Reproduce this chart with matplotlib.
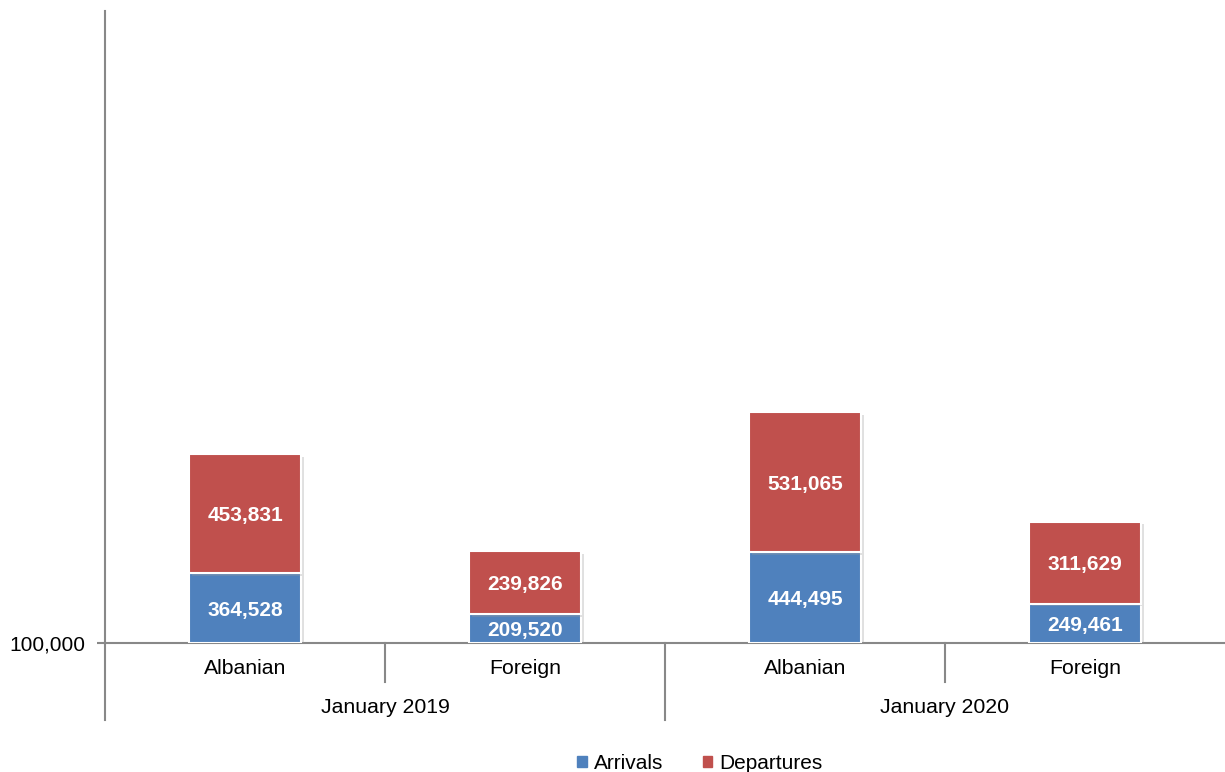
import matplotlib.pyplot as plt
import matplotlib.patheffects as pe
from matplotlib.patches import Patch

plt.rcParams['font.family'] = ['Liberation Sans', 'DejaVu Sans']

# Data
categories = ['Albanian', 'Foreign', 'Albanian', 'Foreign']
groups = ['January 2019', 'January 2020']
arrivals = [364528, 209520, 444495, 249461]
departures = [453831, 239826, 531065, 311629]

base = 100000
blue = '#4F81BD'
red = '#C0504D'

fig = plt.figure(figsize=(12.25, 7.72), dpi=100)
ax = fig.add_axes([105 / 1225, 129 / 772, 1120 / 1225, 632 / 772])

x = range(len(categories))
shadow = [pe.SimplePatchShadow(offset=(2, -2), shadow_rgbFace='#999999', alpha=0.3), pe.Normal()]

ax.bar(x, [a - base for a in arrivals], bottom=base, width=0.4, color=blue,
       edgecolor='white', linewidth=1.5, path_effects=shadow, zorder=3)
ax.bar(x, departures, bottom=arrivals, width=0.4, color=red,
       edgecolor='white', linewidth=1.5, path_effects=shadow, zorder=3)

for i in x:
    ax.text(i, (base + arrivals[i]) / 2, f'{arrivals[i]:,}', ha='center', va='center_baseline',
            color='white', fontsize=15, fontweight='bold', zorder=4)
    ax.text(i, arrivals[i] + departures[i] / 2, f'{departures[i]:,}', ha='center', va='center_baseline',
            color='white', fontsize=15, fontweight='bold', zorder=4)

ax.set_xlim(-0.5, 3.5)
ax.set_ylim(base, 2500000)
ax.set_yticks([base])
ax.set_yticklabels(['100,000'], fontsize=15)
ax.set_xticks([])
ax.tick_params(axis='y', length=6, color='#888888', width=1.5, pad=8)

for s in ['top', 'right']:
    ax.spines[s].set_visible(False)
for s in ['left', 'bottom']:
    ax.spines[s].set_color('#888888')
    ax.spines[s].set_linewidth(1.5)

# multi-level category axis
trans = ax.get_xaxis_transform()
for i, c in enumerate(categories):
    ax.text(i, -0.041, c, transform=trans, ha='center', va='center', fontsize=15.3)
for gi, g in enumerate(groups):
    ax.text(gi * 2 + 0.5, -0.102, g, transform=trans, ha='center', va='center', fontsize=15.3)
for xs in [0.5, 2.5]:
    ax.plot([xs, xs], [0, -0.062], transform=trans, color='#888888', lw=1.5, clip_on=False)
for xs in [-0.5, 1.5]:
    ax.plot([xs, xs], [0, -0.122], transform=trans, color='#888888', lw=1.5, clip_on=False)

handles = [Patch(color=blue, label='Arrivals'), Patch(color=red, label='Departures')]
fig.legend(handles=handles, loc='center', bbox_to_anchor=(0.5716, 0.011), ncol=2, frameon=False,
           fontsize=15, handlelength=0.45, handleheight=0.45, handletextpad=0.35, columnspacing=1.9)

fig.savefig('out.png', dpi=100)
